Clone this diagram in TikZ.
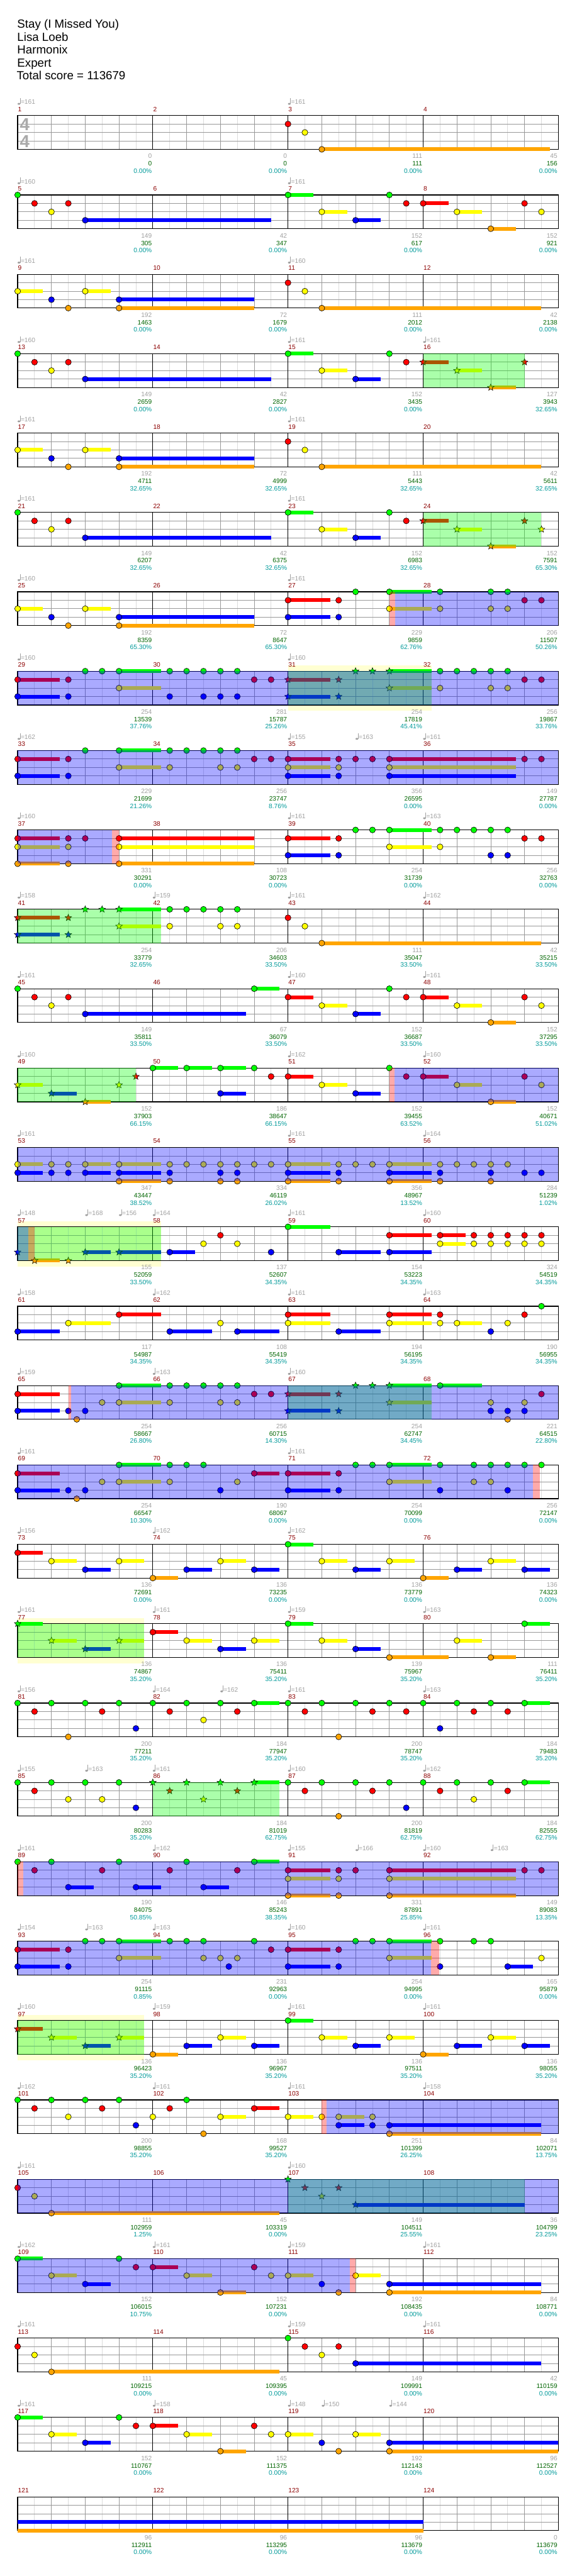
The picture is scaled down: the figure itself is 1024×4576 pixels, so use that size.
\documentclass[tikz,border=0pt]{standalone}
\usepackage{fontspec}
\setmainfont{Liberation Sans}
\usetikzlibrary{shapes.geometric}
\definecolor{lane0}{HTML}{00FF00}
\definecolor{lane1}{HTML}{FF0000}
\definecolor{lane2}{HTML}{FFFF00}
\definecolor{lane3}{HTML}{0000FF}
\definecolor{lane4}{HTML}{FFA500}
\definecolor{barred}{HTML}{8B0000}
\definecolor{softgrey}{HTML}{A0A0A0}
\definecolor{siggrey}{HTML}{AAAAAA}
\definecolor{totalgreen}{HTML}{006400}
\definecolor{pctcyan}{HTML}{009999}
\definecolor{gridlight}{HTML}{DCDCDC}
\definecolor{gridmid}{HTML}{999999}
\definecolor{whampale}{HTML}{FFFFD2}
\tikzset{
	chartrow/.style={shift={(31.3pt,{-205.3pt-141pt*#1})}, x=15pt, y=-15pt,
		/utils/exec={\def\rowid{#1}}},
	note/.style={
		circle, draw=black, line width=0.7pt, fill=lane#1,
		minimum size=10.5pt, inner sep=0pt
	},
	starnote/.style={
		star, star points=5, star point ratio=2.3, draw=black,
		line width=0.6pt, fill=lane#1, minimum size=12.5pt, inner sep=0pt
	},
	tail/.style={draw=lane#1, line width=6.7pt},
	thinline/.style={draw=gridlight, line width=0.9pt},
	beatline/.style={draw=gridmid, line width=0.9pt},
	barline/.style={draw=black, line width=1pt},
	staffframe/.style={draw=black, line width=1.3pt},
	spfill/.style={fill=lane0, opacity=0.333},
	odfill/.style={fill=blue, opacity=0.333},
	actfill/.style={fill=red, opacity=0.333},
	smalltxt/.style={font=\fontsize{11.4}{12}\selectfont, inner sep=0pt},
	barno/.style={smalltxt, text=barred, anchor=base west},
	pts/.style={smalltxt, text=softgrey, anchor=base east},
	totals/.style={smalltxt, text=totalgreen, anchor=base east},
	pct/.style={smalltxt, text=pctcyan, anchor=base east},
	titletxt/.style={font=\fontsize{20.9}{23}\selectfont, inner sep=0pt, anchor=base west},
	timesig/.style={font=\fontsize{31}{31}\selectfont\bfseries, text=siggrey, inner sep=0pt, anchor=base west}
}
% one staff of four bars
\newcommand\staffgrid{%
	\foreach \i in {2,6,...,62} \draw[thinline] (\i,0) -- (\i,4);
	\foreach \i in {4,8,12,20,24,28,36,40,44,52,56,60} \draw[beatline] (\i,0) -- (\i,4);
	\foreach \i in {1,2,3} \draw[beatline] (0,\i) -- (64,\i);
	\foreach \i in {16,32,48} \draw[barline] (\i,0) -- (\i,4);
	\draw[staffframe] (0,0) rectangle (64,4);
}
\newcommand\plainnotes[1]{\foreach \pos/\lan in {#1}
	\node[note=\lan] (n\rowid-\pos-\lan) at (\pos,\lan) {};}
\newcommand\heldnotes[1]{\foreach \pos/\lan/\en in {#1}{
	\draw[tail=\lan] (\pos,\lan) -- (\en,\lan);
	\node[note=\lan] (n\rowid-\pos-\lan) at (\pos,\lan) {};}}
\newcommand\starnotes[1]{\foreach \pos/\lan in {#1}
	\node[starnote=\lan] (n\rowid-\pos-\lan) at (\pos,\lan) {};}
\newcommand\starheld[1]{\foreach \pos/\lan/\en in {#1}{
	\draw[tail=\lan] (\pos,\lan) -- (\en,\lan);
	\node[starnote=\lan] (n\rowid-\pos-\lan) at (\pos,\lan) {};}}
\newcommand\tailonly[1]{\foreach \pos/\lan/\en in {#1}
	\draw[tail=\lan] (\pos,\lan) -- (\en,\lan);}
\newcommand\spzone[2]{\fill[spfill] (#1,0) rectangle (#2,4);}
\newcommand\odzone[2]{\fill[odfill] (#1,0) rectangle (#2,4);}
\newcommand\actmark[2]{\fill[actfill] (#1,0) rectangle (#2,4);}
\newcommand\whambg[2]{\fill[whampale] (#1,-0.667) rectangle (#2,4.69);}
\newcommand\tempomark[2]{%
	\fill[softgrey] ({#1+0.153},-1.387) ellipse (2.4pt and 1.7pt);
	\draw[softgrey, line width=0.9pt] ({#1+0.29},-1.39) -- ({#1+0.29},-2.07);
	\node[smalltxt, text=softgrey, anchor=base west] (t\rowid-#1) at ({#1+0.36},-1.333) {=#2};}
\newcommand\barnumbers[1]{\foreach \m in {0,...,3}{
	\pgfmathtruncatemacro\barn{#1+\m}
	\node[barno] (b\barn) at ({16*\m+0.04},-0.49) {\barn};}}
\newcommand\barscores[1]{\foreach \sgain/\stotal/\spct [count=\m] in {#1}{
	\node[pts] (g\rowid-\m) at ({16*\m-0.1},5.08) {\sgain};
	\node[totals] (c\rowid-\m) at ({16*\m-0.1},5.97) {\stotal};
	\node[pct] (p\rowid-\m) at ({16*\m-0.1},6.83) {\spct\%};}}

\begin{document}
\begin{tikzpicture}
	\useasboundingbox (0,0) rectangle (1024pt,-4576pt);
	\node[titletxt] (song) at (30.5pt,-50pt) {Stay (I Missed You)};
	\node[titletxt] (artist) at (30.5pt,-72.85pt) {Lisa Loeb};
	\node[titletxt] (charter) at (30.5pt,-95.7pt) {Harmonix};
	\node[titletxt] (level) at (30.5pt,-118.55pt) {Expert};
	\node[titletxt] (total) at (29.5pt,-141.4pt) {Total score = 113679};

	\begin{scope}[chartrow=0]
		\staffgrid
		\node[timesig] (sigtop) at (0.25,1.78) {4};
		\node[timesig] (sigbot) at (0.25,3.78) {4};
		\plainnotes{32/1, 34/2}
		\heldnotes{36/4/63}
		\tempomark{0}{161}\tempomark{32}{161}
		\barnumbers{1}
		\barscores{0/0/0.00, 0/0/0.00, 111/111/0.00, 45/156/0.00}
	\end{scope}

	\begin{scope}[chartrow=1]
		\staffgrid
		\plainnotes{0/0, 2/1, 4/2, 6/1, 44/0, 46/1, 60/1, 62/2}
		\heldnotes{8/3/30, 32/0/35, 36/2/39, 40/3/43, 48/1/51, 52/2/55, 56/4/59}
		\tempomark{0}{160}\tempomark{32}{161}
		\barnumbers{5}
		\barscores{149/305/0.00, 42/347/0.00, 152/617/0.00, 152/921/0.00}
	\end{scope}

	\begin{scope}[chartrow=2]
		\staffgrid
		\plainnotes{4/3, 6/4, 32/1, 34/2}
		\heldnotes{0/2/3, 8/2/11, 12/3/28, 12/4/28, 36/4/62}
		\tempomark{0}{161}\tempomark{32}{160}
		\barnumbers{9}
		\barscores{192/1463/0.00, 72/1679/0.00, 111/2012/0.00, 42/2138/0.00}
	\end{scope}

	\begin{scope}[chartrow=3]
		\staffgrid
		\plainnotes{0/0, 2/1, 4/2, 6/1, 44/0, 46/1}
		\heldnotes{8/3/30, 32/0/35, 36/2/39, 40/3/43}
		\starnotes{60/1}
		\starheld{48/1/51, 52/2/55, 56/4/59}
		\spzone{48}{60}
		\tempomark{0}{160}\tempomark{32}{161}\tempomark{48}{161}
		\barnumbers{13}
		\barscores{149/2659/0.00, 42/2827/0.00, 152/3435/0.00, 127/3943/32.65}
	\end{scope}

	\begin{scope}[chartrow=4]
		\staffgrid
		\plainnotes{4/3, 6/4, 32/1, 34/2}
		\heldnotes{0/2/3, 8/2/11, 12/3/28, 12/4/28, 36/4/62}
		\tempomark{0}{161}\tempomark{32}{161}
		\barnumbers{17}
		\barscores{192/4711/32.65, 72/4999/32.65, 111/5443/32.65, 42/5611/32.65}
	\end{scope}

	\begin{scope}[chartrow=5]
		\staffgrid
		\plainnotes{0/0, 2/1, 4/2, 6/1, 44/0, 46/1}
		\heldnotes{8/3/30, 32/0/35, 36/2/39, 40/3/43}
		\starnotes{60/1, 62/2}
		\starheld{48/1/51, 52/2/55, 56/4/59}
		\spzone{48}{62}
		\tempomark{0}{161}\tempomark{32}{161}
		\barnumbers{21}
		\barscores{149/6207/32.65, 42/6375/32.65, 152/6983/32.65, 152/7591/65.30}
	\end{scope}

	\begin{scope}[chartrow=6]
		\staffgrid
		\plainnotes{4/3, 6/4, 38/1, 38/3, 40/0, 50/0, 50/2, 56/0, 56/2, 58/0, 58/2, 60/1, 62/1}
		\heldnotes{0/2/3, 8/2/11, 12/3/28, 12/4/28, 32/1/37, 32/3/37, 44/0/49, 44/2/49}
		\actmark{44}{44.7}\odzone{44.7}{64}
		\tempomark{0}{160}\tempomark{32}{161}
		\barnumbers{25}
		\barscores{192/8359/65.30, 72/8647/65.30, 229/9859/62.76, 206/11507/50.26}
	\end{scope}

	\begin{scope}[chartrow=7]
		\whambg{32}{49}
		\staffgrid
		\plainnotes{6/1, 6/3, 8/0, 10/0, 18/0, 18/3, 20/0, 22/0, 22/3, 24/0, 24/3, 26/0, 26/3,
			28/1, 30/1, 50/0, 50/2, 52/0, 54/0, 56/0, 56/2, 58/0, 58/2, 60/1, 62/1}
		\heldnotes{0/1/5, 0/3/5, 12/0/17, 12/2/17}
		\starnotes{38/1, 38/3, 40/0, 42/0}
		\starheld{32/1/37, 32/3/37, 44/0/49, 44/2/49}
		\spzone{32}{49}\odzone{0}{64}
		\tempomark{0}{160}\tempomark{32}{160}
		\barnumbers{29}
		\barscores{254/13539/37.76, 281/15787/25.26, 254/17819/45.41, 256/19867/33.76}
	\end{scope}

	\begin{scope}[chartrow=8]
		\staffgrid
		\plainnotes{6/1, 6/3, 8/0, 18/0, 18/2, 20/0, 22/0, 24/0, 24/2, 26/0, 26/2, 28/1, 30/1,
			38/1, 38/2, 38/3, 40/1, 42/1, 60/1, 62/1}
		\heldnotes{0/1/5, 0/3/5, 12/0/17, 12/2/17, 32/1/37, 32/2/37, 32/3/37, 44/1/59, 44/2/59, 44/3/59}
		\odzone{0}{64}
		\tempomark{0}{162}\tempomark{32}{155}\tempomark{40}{163}\tempomark{48}{161}
		\barnumbers{33}
		\barscores{229/21699/21.26, 256/23747/8.76, 356/26595/0.00, 149/27787/0.00}
	\end{scope}

	\begin{scope}[chartrow=9]
		\staffgrid
		\plainnotes{6/1, 6/2, 6/4, 8/1, 38/1, 38/3, 40/0, 42/0, 50/0, 50/2, 52/0, 54/0,
			56/0, 56/3, 58/0, 58/3, 60/1, 62/1}
		\heldnotes{0/1/5, 0/2/5, 0/4/5, 12/1/28, 12/2/28, 12/4/28, 32/1/37, 32/3/37, 44/0/49, 44/2/49}
		\odzone{0}{11.2}\actmark{11.2}{12}
		\tempomark{0}{160}\tempomark{32}{161}\tempomark{48}{163}
		\barnumbers{37}
		\barscores{331/30291/0.00, 108/30723/0.00, 254/31739/0.00, 256/32763/0.00}
	\end{scope}

	\begin{scope}[chartrow=10]
		\staffgrid
		\plainnotes{18/0, 18/2, 20/0, 22/0, 24/0, 24/2, 26/0, 26/2, 32/1, 34/2}
		\heldnotes{36/4/62}
		\starnotes{6/1, 6/3, 8/0, 10/0}
		\starheld{0/1/5, 0/3/5, 12/0/17, 12/2/17}
		\spzone{0}{17}
		\tempomark{0}{158}\tempomark{16}{159}\tempomark{32}{161}\tempomark{48}{162}
		\barnumbers{41}
		\barscores{254/33779/32.65, 206/34603/33.50, 111/35047/33.50, 42/35215/33.50}
	\end{scope}

	\begin{scope}[chartrow=11]
		\staffgrid
		\plainnotes{0/0, 2/1, 4/2, 6/1, 44/0, 46/1, 60/1, 62/2}
		\heldnotes{8/3/27, 28/0/31, 32/1/35, 36/2/39, 40/3/43, 48/1/51, 52/2/55, 56/4/59}
		\tempomark{0}{161}\tempomark{32}{160}\tempomark{48}{161}
		\barnumbers{45}
		\barscores{149/35811/33.50, 67/36079/33.50, 152/36687/33.50, 152/37295/33.50}
	\end{scope}

	\begin{scope}[chartrow=12]
		\staffgrid
		\plainnotes{28/0, 30/1, 44/0, 46/1, 60/1, 62/2}
		\heldnotes{16/0/19, 20/0/23, 24/0/27, 24/3/27, 32/1/35, 36/2/39, 40/3/43, 48/1/51, 52/2/55, 56/4/59}
		\starnotes{12/2, 14/1}
		\starheld{0/2/3, 4/3/7, 8/4/11}
		\spzone{0}{14}\actmark{44}{44.6}\odzone{44.6}{64}
		\tempomark{0}{160}\tempomark{32}{162}\tempomark{48}{160}
		\barnumbers{49}
		\barscores{152/37903/66.15, 186/38647/66.15, 152/39455/63.52, 152/40671/51.02}
	\end{scope}

	\begin{scope}[chartrow=13]
		\staffgrid
		\plainnotes{4/2, 4/3, 6/2, 6/3, 18/2, 18/3, 18/4, 20/2, 22/2, 24/2, 24/3, 24/4, 26/2, 26/3, 26/4,
			28/2, 30/2, 38/2, 38/3, 38/4, 40/2, 42/2, 50/2, 50/3, 50/4, 52/2, 54/2, 56/2, 56/3, 56/4,
			58/2, 60/3, 62/3}
		\heldnotes{0/2/3, 0/3/3, 8/2/11, 8/3/11, 12/2/17, 12/3/17, 12/4/17, 32/2/37, 32/3/37, 32/4/37,
			44/2/49, 44/3/49, 44/4/49}
		\odzone{0}{64}
		\tempomark{0}{161}\tempomark{32}{161}\tempomark{48}{164}
		\barnumbers{53}
		\barscores{347/43447/38.52, 334/46119/26.02, 356/48967/13.52, 284/51239/1.02}
	\end{scope}

	\begin{scope}[chartrow=14]
		\whambg{0}{17}
		\staffgrid
		\plainnotes{22/2, 24/1, 26/2, 30/3, 54/1, 54/2, 56/1, 56/2, 58/1, 58/2, 60/1, 60/2, 62/1, 62/2}
		\heldnotes{18/3/21, 32/0/37, 38/3/43, 44/1/49, 44/3/49, 50/1/53, 50/2/53}
		\starnotes{0/3, 6/4}
		\starheld{2/4/5, 8/3/11, 12/3/17}
		\spzone{0}{17}\odzone{0}{1.3}\actmark{1.3}{2}
		\tempomark{0}{148}\tempomark{8}{168}\tempomark{12}{156}\tempomark{16}{164}
		\tempomark{32}{161}\tempomark{48}{160}
		\barnumbers{57}
		\barscores{155/52059/33.50, 137/52607/34.35, 154/53223/34.35, 324/54519/34.35}
	\end{scope}

	\begin{scope}[chartrow=15]
		\staffgrid
		\plainnotes{24/2, 50/1, 50/2, 56/3, 58/2, 60/1, 62/0}
		\heldnotes{0/3/5, 6/2/11, 12/1/17, 18/3/23, 26/3/31, 32/1/37, 32/2/37, 38/3/43,
			44/1/49, 44/2/49, 52/2/55}
		\tempomark{0}{158}\tempomark{16}{162}\tempomark{32}{161}\tempomark{48}{163}
		\barnumbers{61}
		\barscores{117/54987/34.35, 108/55419/34.35, 194/56195/34.35, 190/56955/34.35}
	\end{scope}

	\begin{scope}[chartrow=16]
		\staffgrid
		\plainnotes{6/3, 7/4, 8/3, 10/2, 18/0, 18/2, 20/0, 22/0, 24/0, 24/2, 26/0, 26/2, 28/1, 30/1,
			56/2, 56/3, 58/3, 58/4, 60/2, 60/3, 62/1}
		\heldnotes{0/1/5, 0/3/5, 12/0/17, 12/2/17, 50/0/55}
		\starnotes{38/1, 38/3, 40/0, 42/0}
		\starheld{32/1/37, 32/3/37, 44/0/49, 44/2/49}
		\spzone{32}{49}\actmark{6}{6.3}\odzone{6.3}{64}
		\tempomark{0}{159}\tempomark{16}{163}\tempomark{32}{160}
		\barnumbers{65}
		\barscores{254/58667/26.80, 256/60715/14.30, 254/62747/34.45, 221/64515/22.80}
	\end{scope}

	\begin{scope}[chartrow=17]
		\staffgrid
		\plainnotes{6/3, 7/4, 8/3, 10/2, 18/0, 18/2, 20/0, 22/0, 24/3, 26/2, 38/1, 38/3, 40/0, 42/0,
			50/0, 50/3, 54/0, 54/2, 56/0, 56/2, 58/0, 58/3, 60/0, 62/0}
		\heldnotes{0/1/5, 0/3/5, 12/0/17, 12/2/17, 28/1/31, 32/1/37, 32/3/37, 44/0/49, 44/2/49}
		\odzone{0}{61}\actmark{61}{61.8}
		\tempomark{0}{161}\tempomark{32}{161}
		\barnumbers{69}
		\barscores{254/66547/10.30, 190/68067/0.00, 254/70099/0.00, 256/72147/0.00}
	\end{scope}

	\begin{scope}[chartrow=18]
		\staffgrid
		\heldnotes{0/1/3, 4/2/7, 8/3/11, 12/2/15, 16/4/19, 20/3/23, 24/2/27, 28/3/31,
			32/0/35, 36/2/39, 40/3/43, 44/2/47, 48/4/51, 52/3/55, 56/2/59, 60/3/63}
		\tempomark{0}{156}\tempomark{16}{162}\tempomark{32}{162}
		\barnumbers{73}
		\barscores{136/72691/0.00, 136/73235/0.00, 136/73779/0.00, 136/74323/0.00}
	\end{scope}

	\begin{scope}[chartrow=19]
		\whambg{0}{15}
		\staffgrid
		\heldnotes{16/1/19, 20/2/23, 24/3/27, 28/2/31, 32/0/35, 36/2/39, 40/3/43,
			44/4/51, 52/2/55, 56/4/59, 60/0/63}
		\starheld{0/0/3, 4/2/7, 8/3/11, 12/2/15}
		\spzone{0}{15}
		\tempomark{0}{161}\tempomark{16}{161}\tempomark{32}{159}\tempomark{48}{163}
		\barnumbers{77}
		\barscores{136/74867/35.20, 136/75411/35.20, 139/75967/35.20, 111/76411/35.20}
	\end{scope}

	\begin{scope}[chartrow=20]
		\staffgrid
		\plainnotes{0/0, 2/1, 4/0, 6/4, 8/0, 10/1, 12/0, 14/3, 16/0, 18/1, 20/0, 22/2, 24/0, 26/1,
			32/0, 34/1, 36/0, 38/4, 40/0, 42/1, 44/0, 46/1, 48/0, 50/3, 52/0, 54/1, 56/0, 58/1}
		\heldnotes{28/0/31, 60/0/63}
		\tempomark{0}{156}\tempomark{16}{164}\tempomark{24}{162}\tempomark{32}{161}\tempomark{48}{163}
		\barnumbers{81}
		\barscores{200/77211/35.20, 184/77947/35.20, 200/78747/35.20, 184/79483/35.20}
	\end{scope}

	\begin{scope}[chartrow=21]
		\staffgrid
		\plainnotes{0/0, 2/1, 4/0, 6/2, 8/0, 10/2, 12/0, 14/3, 32/0, 34/1, 36/0, 38/4, 40/0, 42/1,
			44/0, 46/3, 48/0, 50/1, 52/0, 54/2, 56/0, 58/1}
		\heldnotes{60/0/63}
		\starnotes{16/0, 18/1, 20/0, 22/2, 24/0, 26/1}
		\starheld{28/0/31}
		\spzone{16}{31}
		\tempomark{0}{155}\tempomark{8}{163}\tempomark{16}{161}\tempomark{32}{160}\tempomark{48}{162}
		\barnumbers{85}
		\barscores{200/80283/35.20, 184/81019/62.75, 200/81819/62.75, 184/82555/62.75}
	\end{scope}

	\begin{scope}[chartrow=22]
		\staffgrid
		\plainnotes{0/0, 2/1, 4/0, 10/1, 12/0, 18/1, 20/0, 26/1, 38/1, 38/2, 38/4, 40/1, 60/1, 62/1}
		\heldnotes{6/3/9, 14/3/17, 22/3/25, 28/0/31, 32/1/37, 32/2/37, 32/4/37, 44/1/59, 44/2/59, 44/4/59}
		\actmark{0}{0.7}\odzone{0.7}{64}
		\tempomark{0}{161}\tempomark{16}{162}\tempomark{32}{155}\tempomark{40}{166}
		\tempomark{48}{160}\tempomark{56}{163}
		\barnumbers{89}
		\barscores{190/84075/50.85, 146/85243/38.35, 331/87891/25.85, 149/89083/13.35}
	\end{scope}

	\begin{scope}[chartrow=23]
		\staffgrid
		\plainnotes{6/1, 6/3, 8/0, 10/0, 18/0, 20/0, 22/0, 22/2, 24/2, 25/3, 26/2, 28/0, 30/1,
			38/1, 38/3, 40/0, 42/0, 50/0, 50/3, 54/0, 56/0, 62/2}
		\heldnotes{0/1/5, 0/3/5, 12/0/17, 12/2/17, 32/1/37, 32/3/37, 44/0/49, 44/2/49, 58/3/61}
		\odzone{0}{48.9}\actmark{48.9}{49.9}
		\tempomark{0}{154}\tempomark{8}{163}\tempomark{16}{163}\tempomark{32}{160}\tempomark{48}{161}
		\barnumbers{93}
		\barscores{254/91115/0.85, 231/92963/0.00, 254/94995/0.00, 165/95879/0.00}
	\end{scope}

	\begin{scope}[chartrow=24]
		\whambg{0}{15}
		\staffgrid
		\heldnotes{16/4/19, 20/3/23, 24/2/27, 28/3/31, 32/0/35, 36/2/39, 40/3/43, 44/2/47,
			48/4/51, 52/3/55, 56/2/59, 60/3/63}
		\starheld{0/1/3, 4/2/7, 8/3/11, 12/2/15}
		\spzone{0}{15}
		\tempomark{0}{160}\tempomark{16}{159}\tempomark{32}{161}\tempomark{48}{161}
		\barnumbers{97}
		\barscores{136/96423/35.20, 136/96967/35.20, 136/97511/35.20, 136/98055/35.20}
	\end{scope}

	\begin{scope}[chartrow=25]
		\staffgrid
		\plainnotes{0/0, 2/1, 4/0, 6/2, 8/0, 10/1, 12/0, 14/3, 16/2, 18/1, 20/0, 22/4, 36/2, 42/2, 42/3}
		\heldnotes{24/2/27, 28/1/31, 32/2/35, 38/2/41, 38/3/41, 44/3/62, 44/4/62}
		\actmark{36}{36.6}\odzone{36.6}{64}
		\tempomark{0}{162}\tempomark{16}{161}\tempomark{32}{161}\tempomark{48}{158}
		\barnumbers{101}
		\barscores{200/98855/35.20, 168/99527/35.20, 251/101399/26.25, 84/102071/13.75}
	\end{scope}

	\begin{scope}[chartrow=26]
		\staffgrid
		\plainnotes{0/1, 2/2}
		\heldnotes{4/4/31}
		\starnotes{32/0, 34/1, 36/2, 38/1}
		\starheld{40/3/60}
		\spzone{32}{60}\odzone{0}{64}
		\tempomark{0}{161}\tempomark{32}{160}
		\barnumbers{105}
		\barscores{111/102959/1.25, 45/103319/0.00, 149/104511/25.55, 36/104799/23.25}
	\end{scope}

	\begin{scope}[chartrow=27]
		\staffgrid
		\plainnotes{12/0, 14/1, 28/1, 30/2, 36/3, 38/4}
		\heldnotes{0/0/3, 4/2/7, 8/3/11, 16/1/19, 20/2/23, 24/4/27, 32/2/35, 40/2/43, 44/3/62, 44/4/62}
		\odzone{0}{39.3}\actmark{39.3}{40}
		\tempomark{0}{162}\tempomark{16}{161}\tempomark{32}{159}\tempomark{48}{161}
		\barnumbers{109}
		\barscores{152/106015/10.75, 152/107231/0.00, 192/108435/0.00, 84/108771/0.00}
	\end{scope}

	\begin{scope}[chartrow=28]
		\staffgrid
		\plainnotes{0/1, 2/2, 32/0, 34/1, 36/2, 38/1}
		\heldnotes{4/4/31, 40/3/62}
		\tempomark{0}{161}\tempomark{32}{159}\tempomark{48}{161}
		\barnumbers{113}
		\barscores{111/109215/0.00, 45/109395/0.00, 149/109991/0.00, 42/110159/0.00}
	\end{scope}

	\begin{scope}[chartrow=29]
		\staffgrid
		\plainnotes{12/0, 14/1, 28/1, 30/2, 36/3, 38/4}
		\heldnotes{0/0/3, 4/2/7, 8/3/11, 16/1/19, 20/2/23, 24/4/27, 32/2/35, 40/2/43, 44/3/64, 44/4/64}
		\tempomark{0}{161}\tempomark{16}{158}\tempomark{32}{148}\tempomark{36}{150}\tempomark{44}{144}
		\barnumbers{117}
		\barscores{152/110767/0.00, 152/111375/0.00, 192/112143/0.00, 96/112527/0.00}
	\end{scope}

	\begin{scope}[chartrow=30]
		\staffgrid
		\tailonly{0/3/48, 0/4/48}
		\barnumbers{121}
		\barscores{96/112911/0.00, 96/113295/0.00, 96/113679/0.00, 0/113679/0.00}
	\end{scope}
\end{tikzpicture}
\end{document}
